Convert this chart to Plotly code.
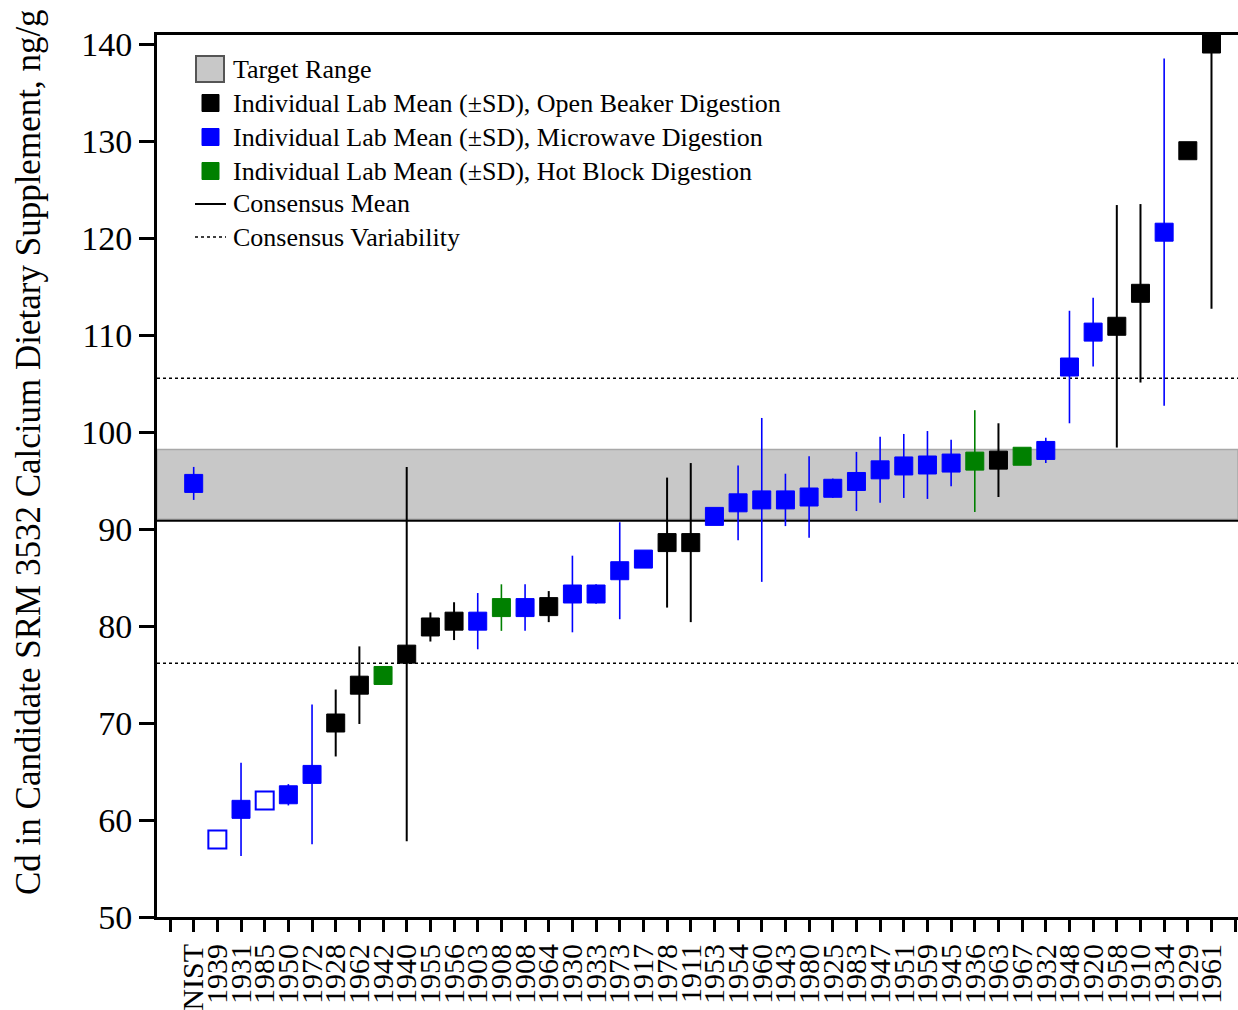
import plotly.graph_objects as go

labels = ["NIST", "1939", "1931", "1985", "1950", "1972", "1928", "1962", "1942", "1940",
          "1955", "1956", "1903", "1908", "1908", "1964", "1930", "1933", "1973", "1917",
          "1978", "1911", "1953", "1954", "1960", "1943", "1980", "1925", "1983", "1947",
          "1951", "1959", "1945", "1936", "1963", "1967", "1932", "1948", "1920", "1958",
          "1910", "1934", "1929", "1961"]
means = [94.7, 58.0, 61.1, 62.0, 62.6, 64.7, 70.0, 73.9, 74.9, 77.1,
         79.9, 80.5, 80.5, 81.9, 81.9, 82.0, 83.3, 83.3, 85.7, 86.9,
         88.6, 88.6, 91.3, 92.7, 93.0, 93.0, 93.3, 94.2, 94.9, 96.1,
         96.5, 96.6, 96.8, 97.0, 97.1, 97.5, 98.1, 106.7, 110.3, 110.9,
         114.3, 120.6, 129.0, 140.0]
sds = [1.7, 0.0, 4.8, 0.0, 1.1, 7.2, 3.45, 4.0, 0.4, 19.3,
       1.5, 1.95, 2.9, 2.4, 2.4, 1.6, 3.95, 1.0, 5.0, 0.8,
       6.7, 8.2, 0.5, 3.85, 8.45, 2.7, 4.2, 1.0, 3.05, 3.4,
       3.3, 3.5, 2.4, 5.25, 3.8, 0.3, 1.3, 5.8, 3.55, 12.5,
       9.2, 17.9, 0.0, 27.3]
# digestion method: O = open beaker, M = microwave, H = hot block, Mo = microwave (open symbol)
methods = ["M", "Mo", "M", "Mo", "M", "M", "O", "O", "H", "O",
           "O", "O", "M", "H", "M", "O", "M", "M", "M", "M",
           "O", "O", "M", "M", "M", "M", "M", "M", "M", "M",
           "M", "M", "M", "H", "O", "H", "M", "M", "M", "O",
           "O", "M", "O", "O"]

consensus_mean = 90.85
consensus_var = 14.7
target_low, target_high = 91.0, 98.2

legend_labels = ["Target Range",
                 "Individual Lab Mean (±SD), Open Beaker Digestion",
                 "Individual Lab Mean (±SD), Microwave Digestion",
                 "Individual Lab Mean (±SD), Hot Block Digestion",
                 "Consensus Mean",
                 "Consensus Variability"]

xpos = list(range(1, len(labels) + 1))
x_lo, x_hi = -0.55, 45.12
y_lo, y_hi = 50, 140.93

SERIF = "Liberation Serif"
BLUE = "#0000ff"
GREEN = "#008000"
BLACK = "#000000"
GRAY = "#c8c8c8"

# plot-area geometry in pixels (for the hand-placed legend)
L, T, W, H = 157, 35, 1081, 882


def px(x):
    return (x - L) / W


def py(y):
    return (T + H - y) / H


fig = go.Figure()

# Target range band
fig.add_trace(go.Scatter(
    x=[x_lo, x_hi, x_hi, x_lo, x_lo], y=[target_low, target_low, target_high, target_high, target_low],
    mode="lines", fill="toself", fillcolor=GRAY, line=dict(color="#a8a8a8", width=1.5),
    name=legend_labels[0], hoverinfo="skip", showlegend=False))

# Consensus mean
fig.add_trace(go.Scatter(
    x=[x_lo, x_hi], y=[consensus_mean, consensus_mean], mode="lines",
    line=dict(color="black", width=2), name=legend_labels[4], showlegend=False))

# Consensus variability
fig.add_trace(go.Scatter(
    x=[x_lo, x_hi, None, x_lo, x_hi],
    y=[consensus_mean + consensus_var] * 2 + [None] + [consensus_mean - consensus_var] * 2,
    mode="lines", line=dict(color="black", width=1.5, dash="dot"),
    name=legend_labels[5], showlegend=False))


def group(code):
    idx = [i for i, m in enumerate(methods) if m == code]
    return [xpos[i] for i in idx], [means[i] for i in idx], [sds[i] for i in idx]


specs = [("O", BLACK, legend_labels[1], 2.0),
         ("M", BLUE, legend_labels[2], 1.6),
         ("H", GREEN, legend_labels[3], 1.6)]
for code, col, name, ew in specs:
    gx, gy, ge = group(code)
    fig.add_trace(go.Scatter(
        x=gx, y=gy, mode="markers", name=name, showlegend=False,
        marker=dict(symbol="square", size=18, color=col, line=dict(color=col, width=1)),
        error_y=dict(type="data", array=ge, visible=True, color=col, thickness=ew, width=0)))

gx, gy, ge = group("Mo")
fig.add_trace(go.Scatter(
    x=gx, y=gy, mode="markers", showlegend=False,
    marker=dict(symbol="square-open", size=18, color=BLUE, line=dict(color=BLUE, width=2))))

# Hand-placed legend (symbols + text) in the upper left of the plot area
row_y = [69, 103, 137, 171, 204, 237]
shapes = [
    dict(type="rect", xref="paper", yref="paper", x0=px(196), x1=px(224), y0=py(82), y1=py(56),
         fillcolor=GRAY, line=dict(color="#555555", width=2)),
]
for yy, col in zip(row_y[1:4], [BLACK, BLUE, GREEN]):
    shapes.append(dict(type="rect", xref="paper", yref="paper", x0=px(202), x1=px(219),
                       y0=py(yy + 8.5), y1=py(yy - 8.5), fillcolor=col, line=dict(color=col, width=1)))
shapes.append(dict(type="line", xref="paper", yref="paper", x0=px(195), x1=px(226),
                   y0=py(row_y[4]), y1=py(row_y[4]), line=dict(color="black", width=2)))
shapes.append(dict(type="line", xref="paper", yref="paper", x0=px(195), x1=px(226),
                   y0=py(row_y[5]), y1=py(row_y[5]), line=dict(color="black", width=1.5, dash="dot")))

annotations = [dict(text=t, xref="paper", yref="paper", x=px(231), y=py(yy), xanchor="left",
                    yanchor="middle", showarrow=False,
                    font=dict(family=SERIF, size=26, color="black"))
               for t, yy in zip(legend_labels, row_y)]
annotations.append(dict(text="Cd in Candidate SRM 3532 Calcium Dietary Supplement, ng/g",
                        xref="paper", yref="paper", x=px(28), y=py(452),
                        xanchor="center", yanchor="middle", textangle=-90, showarrow=False,
                        font=dict(family=SERIF, size=35, color="black")))

fig.update_layout(
    width=1238, height=1010,
    margin=dict(l=L, r=1238 - L - W, t=T, b=1010 - T - H),
    paper_bgcolor="white", plot_bgcolor="white",
    font=dict(family=SERIF, color="black"),
    showlegend=False,
    shapes=shapes,
    annotations=annotations,
    xaxis=dict(range=[x_lo, x_hi], tickmode="array", tickvals=[0] + xpos + [45],
               ticktext=[""] + labels + [""], tickangle=-90,
               tickfont=dict(family=SERIF, size=30, color="black"),
               ticks="outside", ticklen=12, tickwidth=2.5, tickcolor="black",
               showline=True, linewidth=3, linecolor="black", mirror=True,
               showgrid=False, zeroline=False, automargin=False),
    yaxis=dict(range=[y_lo, y_hi], tickmode="array", tickvals=list(range(50, 141, 10)),
               tickfont=dict(family=SERIF, size=34, color="black"),
               ticks="outside", ticklen=15, tickwidth=2.5, tickcolor="black",
               showline=True, linewidth=3, linecolor="black",
               showgrid=False, zeroline=False, automargin=False),
)

fig.write_html("out.html")
